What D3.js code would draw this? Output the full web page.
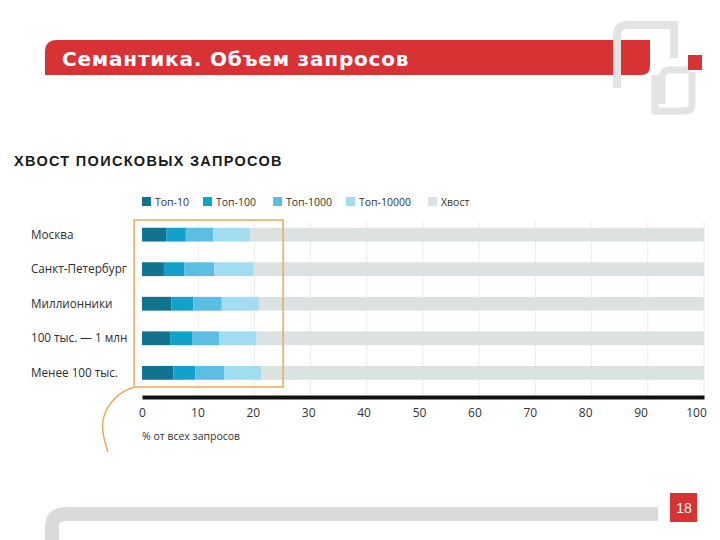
<!DOCTYPE html>
<html><head><meta charset="utf-8">
<script src="https://cdn.jsdelivr.net/npm/d3@7"></script>
<style>body{margin:0;background:#fff}svg{display:block}</style>
</head><body>
<script>
const categories = ["Москва","Санкт-Петербург","Миллионники","100 тыс. — 1 млн","Менее 100 тыс."];
const seriesNames = ["Топ-10","Топ-100","Топ-1000","Топ-10000","Хвост"];
const top10    = [4.3, 3.9, 5.2, 5.0, 5.6];
const top100   = [3.5, 3.6, 3.9, 3.9, 3.9];
const top1000  = [4.9, 5.4, 5.1, 4.9, 5.1];
const top10000 = [6.5, 7.0, 6.6, 6.6, 6.6];
const tail     = [80.8, 80.1, 79.2, 79.6, 78.8];
const xTicks = [0,10,20,30,40,50,60,70,80,90,100];
const colors = ["#12738f","#11a1cb","#5dbee3","#a2dcf1","#dce2e2"];

const W=720,H=540;
const svg=d3.select("body").append("svg").attr("width",W).attr("height",H);

// header band
svg.append("path").attr("d","M45,52 Q45,40 57,40 L650,40 L650,66 Q650,75 641,75 L45,75 Z").attr("fill","#d93235");
svg.append("text").attr("x",62).attr("y",66).attr("fill","#fff")
  .style("font-family","DejaVu Sans").style("font-weight","bold").style("font-size","20px")
  .style("letter-spacing","0.8px").text("Семантика. Объем запросов");
// logo
svg.append("path").attr("d","M617,88 L617,35 Q617,25 627,25 L674,25 L674,58").attr("fill","none").attr("stroke","#e3e3e3").attr("stroke-width",8);
svg.append("path").attr("d","M662,104 L662,78 Q662,70 670,70 L690,70 M692,72 L692,104 Q692,111 685,111 L655,111 L655,75").attr("fill","none").attr("stroke","#e3e3e3").attr("stroke-width",7);
svg.append("rect").attr("x",688).attr("y",55).attr("width",14).attr("height",15).attr("fill","#d93235");

// footer
svg.append("path").attr("d","M52,540 L52,527 Q52,514 66,514 L658,514").attr("fill","none").attr("stroke","#d9dbdb").attr("stroke-width",14);
svg.append("rect").attr("x",670).attr("y",493).attr("width",27).attr("height",29).attr("fill","#d93235");
svg.append("text").attr("x",684).attr("y",513).attr("text-anchor","middle").attr("fill","#fff")
  .style("font-family","Liberation Sans").style("font-size","14px").text("18");

// chart title
svg.append("text").attr("x",14).attr("y",166).attr("fill","#1a1a1a")
  .style("font-family","Liberation Sans").style("font-weight","bold").style("font-size","14.5px")
  .style("letter-spacing","1.3px").text("ХВОСТ ПОИСКОВЫХ ЗАПРОСОВ");

const x=d3.scaleLinear().domain([0,100]).range([142,704]);
const y=d3.scaleBand().domain(categories).range([207,400.5]).paddingInner(0.6).paddingOuter(0.6);

// gridlines
svg.append("g").selectAll("line").data(xTicks.filter(d=>d>0)).join("line")
  .attr("x1",d=>x(d)).attr("x2",d=>x(d)).attr("y1",222).attr("y2",395)
  .attr("stroke","#ececec").attr("stroke-width",1);

// stacked data
const rows=categories.map((c,i)=>({cat:c,"Топ-10":top10[i],"Топ-100":top100[i],"Топ-1000":top1000[i],"Топ-10000":top10000[i],"Хвост":tail[i]}));
const stack=d3.stack().keys(seriesNames)(rows);
svg.append("g").selectAll("g").data(stack).join("g").attr("fill",(d,i)=>colors[i])
  .selectAll("rect").data(d=>d).join("rect")
  .attr("x",d=>x(d[0])).attr("width",d=>x(d[1])-x(d[0]))
  .attr("y",d=>y(d.data.cat)).attr("height",y.bandwidth());

// category labels
svg.append("g").selectAll("text").data(categories).join("text")
  .attr("x",31).attr("y",d=>y(d)+y.bandwidth()/2+4).attr("fill","#2e2e2e")
  .style("font-family","Open Sans").style("font-size","11.7px").text(d=>d);

// orange box and curve
svg.append("rect").attr("x",x(-1.4)).attr("y",220).attr("width",x(25.1)-x(-1.4)).attr("height",167)
  .attr("fill","none").attr("stroke","#e9a85d").attr("stroke-width",1.5);
svg.append("path").attr("d",`M${x(-1.4)},387 C112,394 100,414 103,432 C104,440 106,446 108,452`)
  .attr("fill","none").attr("stroke","#e9a85d").attr("stroke-width",1.5);

// x axis
const ax=svg.append("g").attr("transform","translate(0,397)")
  .call(d3.axisBottom(x).tickValues(xTicks).tickSize(0).tickPadding(11));
ax.select(".domain").attr("stroke","#111").attr("stroke-width",4);
ax.selectAll(".tick text").attr("fill","#333").attr("dx",d=>-d*0.08)
  .style("font-family","Open Sans").style("font-size","12px");
svg.append("text").attr("x",142).attr("y",440).attr("fill","#333")
  .style("font-family","Open Sans").style("font-size","10.5px").text("% от всех запросов");

// legend
const lx=[142,203,273,346,428];
const lg=svg.append("g").selectAll("g").data(seriesNames).join("g").attr("transform",(d,i)=>`translate(${lx[i]},197)`);
lg.append("rect").attr("width",9).attr("height",9).attr("fill",(d,i)=>colors[i]);
lg.append("text").attr("x",13).attr("y",9).attr("fill","#333")
  .style("font-family","Open Sans").style("font-size","10.5px").text(d=>d);
</script>
</body></html>
